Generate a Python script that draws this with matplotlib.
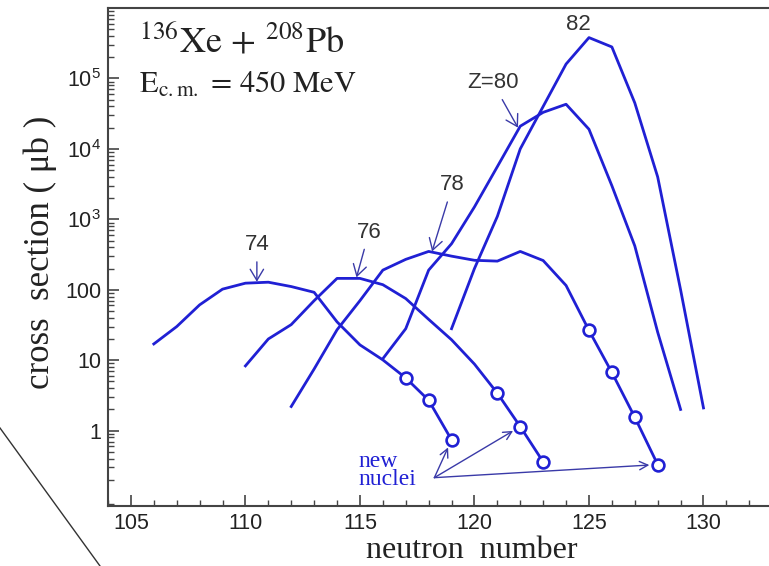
import matplotlib
matplotlib.use('Agg')
import matplotlib.pyplot as plt
from matplotlib.lines import Line2D
from matplotlib.ticker import FixedLocator, LogLocator, NullFormatter, MultipleLocator

plt.rcParams['mathtext.fontset'] = 'stix'

# isotopic cross sections (microbarn) vs neutron number, per proton number Z
n74 = [106, 107, 108, 109, 110, 111, 112, 113, 114, 115, 116, 117, 118, 119]
s74 = [17, 30, 61, 102, 124, 128, 111, 92, 35, 16.5, 10.1, 5.6, 2.7, 0.74]
new74 = [117, 118, 119]

n76 = [110, 111, 112, 113, 114, 115, 116, 117, 118, 119, 120, 121, 122, 123]
s76 = [8.3, 20, 32, 70, 145, 145, 118, 75, 38, 19.5, 8.8, 3.4, 1.14, 0.36]
new76 = [121, 122, 123]

n78 = [112, 113, 114, 115, 116, 117, 118, 119, 120, 121, 122, 123, 124, 125, 126, 127, 128]
s78 = [2.2, 7.5, 27, 70, 190, 270, 350, 300, 262, 255, 350, 260, 115, 26.5, 6.7, 1.55, 0.33]
new78 = [125, 126, 127, 128]

n80 = [116, 117, 118, 119, 120, 121, 122, 123, 124, 125, 126, 127, 128, 129]
s80 = [10.5, 28, 190, 450, 1500, 5600, 2.1e4, 3.3e4, 4.3e4, 1.9e4, 3e3, 420, 25, 2.0]

n82 = [119, 120, 121, 122, 123, 124, 125, 126, 127, 128, 129, 130]
s82 = [28, 200, 1.1e3, 1e4, 4e4, 1.6e5, 3.8e5, 2.8e5, 4.5e4, 4e3, 100, 2.1]

# curve labels: (text, text position, arrow target or None)
labels = [
    ('74', (110.5, 440), (110.5, 130)),
    ('76', (115.4, 660), (114.85, 150)),
    ('78', (119.05, 3.1e3), (118.15, 350)),
    ('Z=80', (120.8, 8.7e4), (121.9, 2.0e4)),
    ('82', (124.55, 5.8e5), None),
]

xticks = [105, 110, 115, 120, 125, 130]

blue = '#2020d4'
arrow_col = '#3a3aa8'
sans = 'Liberation Sans'
serif = 'Liberation Serif'

fig = plt.figure(figsize=(7.69, 5.66), dpi=100)
ax = fig.add_axes([108 / 769, 60 / 566, 710 / 769, 498 / 566])

curves = [(n74, s74, new74), (n76, s76, new76), (n78, s78, new78),
          (n80, s80, []), (n82, s82, [])]
for n, s, new in curves:
    ax.plot(n, s, color=blue, lw=2.0, zorder=3)
    if new:
        nn = [x for x in n if x in new]
        ss = [s[n.index(x)] for x in nn]
        ax.plot(nn, ss, 'o', ms=8.5, mfc='white', mec=blue, mew=1.9, zorder=4)

for txt, pos, tip in labels:
    if tip is None:
        ax.text(pos[0], pos[1], txt, ha='center', va='center', fontsize=16,
                family=sans, color='#333333')
    else:
        ax.annotate(txt, xy=tip, xytext=pos, ha='center', va='center',
                    fontsize=16, family=sans, color='#333333',
                    arrowprops=dict(arrowstyle='->,head_length=0.5,head_width=0.3',
                                    color=arrow_col, lw=1.0, shrinkA=3, shrinkB=0))

# "new nuclei" pointers
ax.text(114.95, 0.27, 'new\nnuclei', ha='left', va='center', fontsize=17,
        family=serif, color=blue, linespacing=0.8)
origin = (118.25, 0.215)
for n, s, new in curves[:3]:
    tip_n = new[-1] if n is not n76 else new[1]
    ax.annotate('', xy=(tip_n, s[n.index(tip_n)]), xytext=origin,
                arrowprops=dict(arrowstyle='->,head_length=0.6,head_width=0.3',
                                color=arrow_col, lw=1.0, shrinkA=0, shrinkB=6))

ax.set_yscale('log')
ax.set_xlim(104, 135)
ax.set_ylim(10 ** -1.07, 1e6)

ax.xaxis.set_major_locator(FixedLocator(xticks))
ax.xaxis.set_minor_locator(MultipleLocator(1))
yt = [1, 10, 100, 1e3, 1e4, 1e5]
ax.yaxis.set_major_locator(FixedLocator(yt))
ax.set_yticklabels(['1', '10', '100', r'$\mathregular{10^3}$',
                    r'$\mathregular{10^4}$', r'$\mathregular{10^5}$'])
ax.yaxis.set_minor_locator(LogLocator(base=10, subs=range(2, 10), numticks=20))
ax.yaxis.set_minor_formatter(NullFormatter())

ax.tick_params(which='both', direction='in', top=False, right=False,
               colors='#444444', labelcolor='#222222')
ax.tick_params(which='major', length=8, width=1.2, labelsize=15.5, pad=5)
ax.tick_params(which='minor', length=4, width=1.0)
for lab in ax.get_xticklabels() + ax.get_yticklabels():
    lab.set_family(sans)
for side in ['left', 'bottom', 'top']:
    ax.spines[side].set_color('#444444')
    ax.spines[side].set_linewidth(1.5)
ax.spines['right'].set_visible(False)

fig.text(40 / 769, 1 - 252 / 566, 'cross  section ( μb )', rotation=90,
         ha='center', va='center', fontsize=25, family=serif, color='#222222')
fig.text(472 / 769, 1 - 551 / 566, 'neutron  number', ha='center', va='center',
         fontsize=23, family=serif, color='#222222')

ax.text(0.043, 0.97, r'$^{136}\mathrm{Xe}\,+\,^{208}\mathrm{Pb}$', transform=ax.transAxes,
        ha='left', va='top', fontsize=26, color='#222222')
ax.text(0.043, 0.875, r'$\mathrm{E_{c.m.}}\,=\,450\ \mathrm{MeV}$', transform=ax.transAxes,
        ha='left', va='top', fontsize=22, color='#222222')

fig.add_artist(Line2D([0, 100 / 769], [1 - 428 / 566, 0], color='#333333', lw=1.0))

fig.savefig('out.png', dpi=100)
